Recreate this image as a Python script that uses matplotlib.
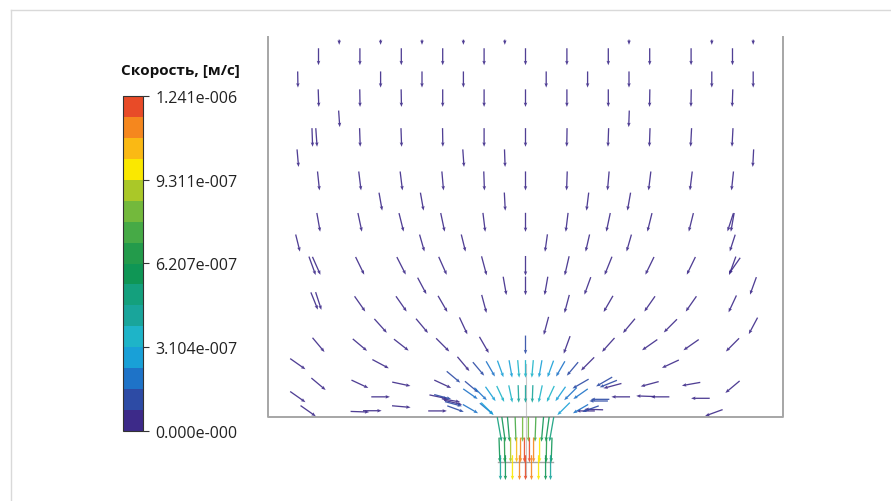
import numpy as np
import matplotlib
matplotlib.use("Agg")
import matplotlib.pyplot as plt
from matplotlib.colors import ListedColormap, Normalize
from matplotlib.cm import ScalarMappable
from matplotlib.lines import Line2D

plt.rcParams['font.family'] = ['Open Sans', 'DejaVu Sans']

# ---- velocity field (x, y in mm, angle in deg, speed in m/s) ----
# upper part: regular staggered rows, all slow (darkest band)
row_y = [18.1, 17.4, 16.3, 15.4, 14.4, 13.5, 12.5, 11.4, 10.4, 9.4, 8.4, 7.3]
row_x = [
    [-9, -7, -5, -3, -1, 5, 9, 11],
    [-10, -8, -6, -4, -2, 0, 2, 4, 6, 8, 10],
    [-11, -7, -5, -3, 1, 3, 5, 9, 11],
    [-10, -8, -6, -4, -2, 0, 2, 4, 6, 8, 10],
    [-9, 5],
    [-10.3, -10.1, -8, -6, -4, -2, 0, 2, 4, 6, 8, 10],
    [-11, -3, -1, 11],
    [-10, -8, -6, -4, -2, 0, 2, 4, 6, 8, 10],
    [-7, -5, -1, 3, 5],
    [-10, -8, -6, -4, -2, 0, 2, 4, 6, 8, 10, 9.9],
    [-11, -5, -3, 1, 3, 5, 10],
    [-10.3, -10.1, -8, -6, -4, -2, 0, 2, 4, 6, 8, 10, 10.1],
]
row_ang = [
    [-90, -90, -90, -90, -90, -90, -90, -90],
    [-90, -90, -90, -90, -90, -90, -90, -90, -90, -90, -90],
    [-89, -90, -90, -90, -90, -90, -90, -90, -90],
    [-88, -89, -89, -90, -90, -90, -90, -90, -91, -91, -92],
    [-86, -92],
    [-88, -86, -88, -88, -89, -90, -90, -91, -92, -92, -93, -93],
    [-85, -86, -88, -93],
    [-84, -83, -83, -85, -88, -90, -92, -95, -97, -97, -96],
    [-80, -80, -87, -97, -100],
    [-80, -78, -76, -78, -83, -90, -97, -102, -104, -104, -100, -108],
    [-76, -74, -76, -98, -103, -106, -108],
    [-70, -66, -64, -63, -66, -75, -90, -103, -112, -116, -116, -110, -125],
]
row_len = [0.25, 0.82, 0.78, 0.85, 0.8, 0.9, 0.85, 0.92, 0.88, 0.92, 0.85, 0.95]
row_spd = [1.0e-8, 2.0e-8, 2.2e-8, 2.5e-8, 2.8e-8, 3.0e-8, 3.3e-8, 3.6e-8, 4.0e-8, 4.4e-8, 4.8e-8, 5.2e-8]

# lower part: flow turning towards the opening
low_x = [-5, -1, 0, 1, 3, 11,
         -10.2, -10.0,
         -8, -6, -4, -2, 2, 4, 6, 8, 10,
         -7, -5, -3, 1, 5, 7, 11,
         -10, -8, -6, -4, -2, 0, 2, 4, 6, 8, 10,
         -11, -7, -3, 3, 7,
         -10, -8, -6, -4, 2.66, 3.8, 4.0, 4.2, 6, 8, 10,
         -11, -7, -4.2, -3.6, -3.5, 3.53, 3.6, 4.6, 5.8, 6.5, 8.45,
         -10.5, -8.0, -7.4, -6.0, -4.25, 2.9, 3.3, 9.1]
low_y = [6.33, 6.33, 6.33, 6.33, 6.33, 6.33,
         5.6, 5.6,
         5.46, 5.46, 5.46, 5.46, 5.46, 5.46, 5.46, 5.46, 5.46,
         4.4, 4.4, 4.4, 4.4, 4.4, 4.4, 4.4,
         3.48, 3.48, 3.48, 3.48, 3.48, 3.48, 3.48, 3.48, 3.48, 3.48, 3.48,
         2.56, 2.56, 2.56, 2.56, 2.56,
         1.59, 1.59, 1.59, 1.59, 1.6, 1.7, 1.6, 1.5, 1.59, 1.59, 1.45,
         0.97, 0.97, 0.97, 0.8, 0.7, 0.77, 0.85, 0.97, 1.0, 0.97, 0.9,
         0.29, 0.25, 0.3, 0.5, 0.29, 0.29, 0.36, 0.2]
low_ang = [-62, -80, -90, -100, -110, -110,
           -68, -72,
           -55, -55, -60, -75, -105, -120, -125, -125, -115,
           -48, -50, -65, -105, -130, -135, -118,
           -50, -40, -38, -45, -60, -90, -110, -132, -145, -145, -135,
           -35, -28, -50, -135, -155,
           -40, -25, -12, -25, -150, -150, -158, -165, -165, -170, -140,
           -35, 0, -12, -10, -14, 180, 180, 180, 178, 180, 180,
           -35, -2, 0, -5, 0, 180, 178, -160]
low_spd = [6.0e-8, 7.0e-8, 7.0e-8, 7.0e-8, 6.0e-8, 5.0e-8,
           5.5e-8, 5.5e-8,
           5.5e-8, 6.0e-8, 6.5e-8, 7.0e-8, 7.0e-8, 6.5e-8, 6.0e-8, 5.5e-8, 5.0e-8,
           6.0e-8, 6.5e-8, 7.2e-8, 7.5e-8, 6.5e-8, 6.0e-8, 5.0e-8,
           5.0e-8, 5.5e-8, 6.0e-8, 7.0e-8, 7.5e-8, 1.0e-7, 7.5e-8, 7.0e-8, 6.0e-8, 5.5e-8, 5.0e-8,
           4.5e-8, 5.5e-8, 7.5e-8, 7.5e-8, 5.5e-8,
           4.5e-8, 5.0e-8, 6.0e-8, 7.0e-8, 9.0e-8, 8.5e-8, 8.0e-8, 7.5e-8, 6.0e-8, 5.0e-8, 4.5e-8,
           4.0e-8, 5.0e-8, 7.0e-8, 7.5e-8, 7.5e-8, 1.3e-7, 1.2e-7, 7.0e-8, 6.0e-8, 5.5e-8, 4.5e-8,
           3.5e-8, 4.0e-8, 4.5e-8, 5.0e-8, 6.0e-8, 7.0e-8, 6.5e-8, 3.5e-8]

# fan of arrows just above the opening
fan_x = [-3.48, -2.6, -4.0, -3.48, -1.88,
         -2.27, -1.69, -1.21, -0.72, -0.34, 0, 0.34, 0.72, 1.21, 1.69, 2.27,
         -2.66, -2.17, -1.69, -1.21, -0.72, -0.34, 0, 0.34, 0.72, 1.21, 1.69, 2.17, 2.66,
         -3.38, -2.66, -1.84, 1.84, 2.66, 3.14]
fan_y = [1.93, 1.45, 0.97, 0.63, 0.39,
         2.32, 2.32, 2.32, 2.32, 2.32, 2.32, 2.32, 2.32, 2.32, 2.32, 2.32,
         1.11, 1.11, 1.11, 1.11, 1.11, 1.11, 1.11, 1.11, 1.11, 1.11, 1.11, 1.11, 1.11,
         0.39, 0.39, 0.39, 0.39, 0.39, 0.39]
fan_ang = [-40, -40, -15, -15, -40,
           -50, -60, -70, -80, -85, -90, -95, -100, -110, -120, -130,
           -35, -45, -55, -65, -78, -88, -90, -92, -102, -115, -125, -135, -145,
           -20, -30, -45, -135, -150, -160]
fan_spd = [8.0e-8, 1.1e-7, 8.0e-8, 1.2e-7, 2.2e-7,
           1.5e-7, 2.0e-7, 2.6e-7, 3.0e-7, 3.3e-7, 3.4e-7, 3.3e-7, 3.0e-7, 2.6e-7, 2.0e-7, 1.5e-7,
           1.6e-7, 2.2e-7, 2.8e-7, 3.4e-7, 3.8e-7, 4.0e-7, 4.2e-7, 4.0e-7, 3.8e-7, 3.4e-7, 2.8e-7, 2.2e-7, 1.6e-7,
           1.2e-7, 2.0e-7, 2.8e-7, 2.8e-7, 2.0e-7, 1.2e-7]

# inside the outlet channel
noz_x = [-1.26, -1.06, -0.82, -0.48, -0.14, 0.14, 0.48, 0.82, 1.06, 1.26,
         -1.26, -1.01, -0.72, -0.43, -0.24, -0.05, 0.19, 0.39, 0.68, 1.01, 1.26,
         -1.21, -0.97, -0.63, -0.29, 0, 0.29, 0.63, 0.97, 1.21]
noz_y = [-0.6] * 10 + [-1.6] * 11 + [-2.45] * 9
noz_ang = [-80, -82, -85, -88, -90, -90, -92, -95, -98, -100,
           -88, -89, -90, -90, -90, -90, -90, -90, -90, -91, -92,
           -90, -90, -90, -90, -90, -90, -90, -90, -90]
noz_spd = [4.8e-7, 5.5e-7, 6.0e-7, 7.5e-7, 8.5e-7, 8.5e-7, 7.5e-7, 6.0e-7, 5.5e-7, 4.8e-7,
           5.8e-7, 6.5e-7, 9.3e-7, 1.05e-6, 1.15e-6, 1.22e-6, 1.2e-6, 1.1e-6, 9.5e-7, 6.5e-7, 5.8e-7,
           4.5e-7, 6.0e-7, 9.5e-7, 1.1e-6, 1.2e-6, 1.1e-6, 9.5e-7, 6.0e-7, 4.5e-7]

vmax = 1.241e-6
cbar_ticks = [0.0, 3.104e-7, 6.207e-7, 9.311e-7, 1.241e-6]
cbar_labels = ['0.000e-000', '3.104e-007', '6.207e-007', '9.311e-007', '1.241e-006']

band_colors = ['#3d2a89', '#2d4ba5', '#1e73c8', '#19a0d7', '#1eb4c8', '#19a59b',
               '#14a07d', '#0f9655', '#239b4b', '#46aa46', '#73b93c', '#aac828',
               '#fae800', '#fab914', '#f5871e', '#e84b28']
cmap = ListedColormap(band_colors)
norm = Normalize(0, vmax)

# ---- collect everything ----
X, Y, A, L, S = [], [], [], [], []
for y, xs, angs, ln, sp in zip(row_y, row_x, row_ang, row_len, row_spd):
    for x, a in zip(xs, angs):
        X.append(x); Y.append(y); A.append(a); L.append(ln); S.append(sp)
for xs, ys, angs, sps, ln in [(low_x, low_y, low_ang, low_spd, 0.9),
                              (fan_x, fan_y, fan_ang, fan_spd, 0.85),
                              (noz_x, noz_y, noz_ang, noz_spd, 1.2)]:
    X += xs; Y += ys; A += angs; S += sps; L += [ln] * len(xs)

X = np.array(X); Y = np.array(Y); A = np.radians(A); L = np.array(L)
U = L * np.cos(A)
V = L * np.sin(A)

W, H = 891, 502
fig = plt.figure(figsize=(W / 100, H / 100), dpi=100)

# plot region: 20.7 px per mm, centre line at px 525, floor at px 418
ax = fig.add_axes([268 / W, (H - 485) / H, 515 / W, 455 / H])
ax.set_xlim(-12.44, 12.44)
ax.set_ylim(-3.24, 18.74)
ax.axis('off')

ax.quiver(X, Y, U, V, np.array(S), cmap=cmap, norm=norm, angles='xy', scale_units='xy',
          scale=1, pivot='middle', units='dots', width=1.3, headwidth=2.7,
          headlength=3.4, headaxislength=3.0, minlength=0.1, alpha=0.9, zorder=3)

# box walls and outlet
gray = '#a6a6a6'
ax.plot([-12.44, -12.44, 12.44, 12.44], [18.36, 0, 0, 18.36], color=gray, lw=1.4,
        clip_on=False, zorder=2)
ax.plot([-1.35, 1.35], [-2.17, -2.17], color=gray, lw=1.0, zorder=2)
ax.plot([0, 0], [2.56, -2.9], color='#c8c8c8', lw=0.8, zorder=1)

# colour bar
cax = fig.add_axes([123 / W, (H - 432) / H, 20 / W, 335 / H])
cb = fig.colorbar(ScalarMappable(norm=norm, cmap=cmap), cax=cax, ticks=cbar_ticks)
cb.ax.set_yticklabels(cbar_labels)
cb.outline.set_linewidth(0.8)
cb.outline.set_edgecolor('#333333')
cax.tick_params(length=4, width=0.8, color='#333333', labelsize=11.5, pad=5,
                labelcolor='#222222')
fig.text(180 / W, 1 - 71 / H, 'Скорость, [м/с]', ha='center', va='center',
         fontsize=11, fontweight='bold', color='#111111')

# thin page border (top and left only visible)
fig.add_artist(Line2D([10.5 / W, 10.5 / W], [0, 1 - 10.5 / H], color='#d9d9d9', lw=1))
fig.add_artist(Line2D([10.5 / W, 1], [1 - 10.5 / H, 1 - 10.5 / H], color='#d9d9d9', lw=1))

fig.savefig('out.png', dpi=100, facecolor='white')
